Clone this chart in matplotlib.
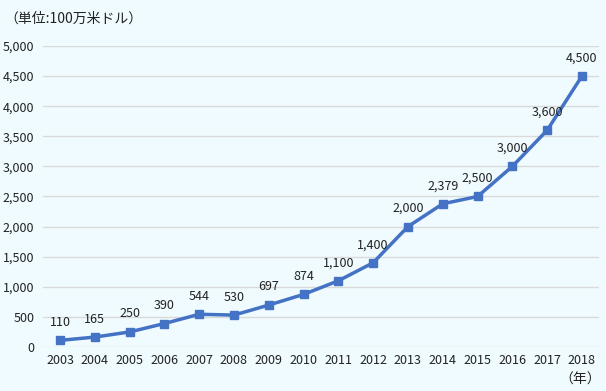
import matplotlib
matplotlib.use('Agg')
import matplotlib.pyplot as plt

plt.rcParams['font.family'] = ['Noto Sans CJK JP', 'DejaVu Sans']

years = ['2003', '2004', '2005', '2006', '2007', '2008', '2009', '2010',
         '2011', '2012', '2013', '2014', '2015', '2016', '2017', '2018']
values = [110, 165, 250, 390, 544, 530, 697, 874,
          1100, 1400, 2000, 2379, 2500, 3000, 3600, 4500]
yticks = [0, 500, 1000, 1500, 2000, 2500, 3000, 3500, 4000, 4500, 5000]

BG = '#F0FBFF'
LINE = '#4472C4'

fig = plt.figure(figsize=(6.06, 3.91), dpi=100, facecolor=BG)
ax = fig.add_axes([0.0703, 0.1125, 0.9187, 0.7699], facecolor=BG)

x = list(range(len(years)))
ax.plot(x, values, color=LINE, lw=2.5, marker='s', ms=5.5, zorder=3)

for xi, v in zip(x, values):
    ax.annotate(f'{v:,}', (xi, v), xytext=(0, 13), textcoords='offset points',
                ha='center', va='center', fontsize=9, color='#222222')

ax.set_xlim(-0.5, len(years) - 0.5)
ax.set_ylim(0, 5000)
ax.set_yticks(yticks)
ax.set_yticklabels([f'{t:,}' for t in yticks])
ax.set_xticks(x)
ax.set_xticklabels(years)
ax.tick_params(length=0, labelsize=9, colors='#222222')
ax.tick_params(axis='y', pad=6)
ax.tick_params(axis='x', pad=5)
ax.grid(axis='y', color='#D9D9D9', lw=1)
ax.set_axisbelow(True)
for s in ax.spines.values():
    s.set_visible(False)

fig.text(0.008, 0.952, '（単位:100万米ドル）', fontsize=10, color='#222222', va='center')
fig.text(0.957, 0.03, '（年）', fontsize=10, color='#222222', va='center', ha='center')

fig.savefig('out.png', dpi=100, facecolor=BG)
